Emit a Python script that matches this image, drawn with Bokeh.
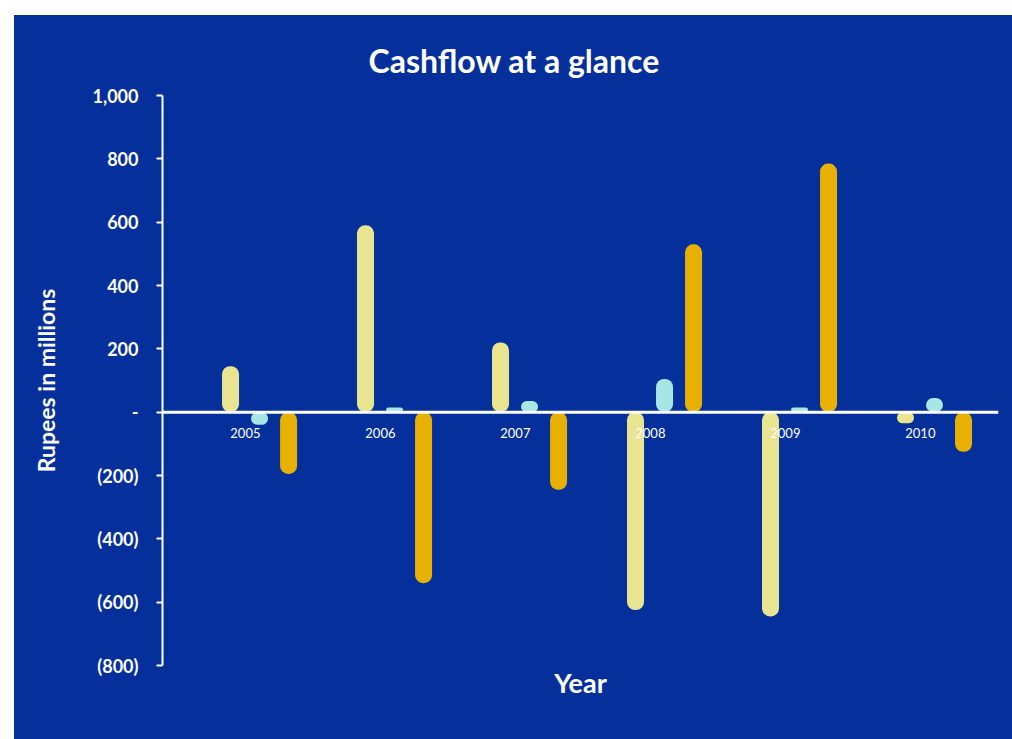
from bokeh.plotting import figure
from bokeh.models import ColumnDataSource, FixedTicker, Span, Title
from bokeh.core.properties import value
from bokeh.embed import file_html
from bokeh.resources import INLINE

# Cash flow per year, rupees in millions
years = ["2005", "2006", "2007", "2008", "2009", "2010"]
flow_a = [145, 590, 220, -625, -645, -35]     # pale yellow
flow_b = [-40, 15, 35, 105, 15, 45]           # light cyan
flow_c = [-195, -540, -245, 530, 785, -125]   # amber

y_ticks = [-800, -600, -400, -200, 0, 200, 400, 600, 800, 1000]

BG = "#05309b"
WHITE = "#ffffff"
FONT = "Lato"

series = [
    (flow_a, 0.0, "#e8e48f"),
    (flow_b, 0.215, "#a6e6e4"),
    (flow_c, 0.43, "#e8b000"),
]
bar_w = 0.126

p = figure(
    width=998, height=724,
    x_range=(-0.504, 5.689), y_range=(-800, 1000),
    output_backend="svg", toolbar_location=None,
    min_border_left=148, min_border_right=14,
    min_border_top=80, min_border_bottom=74,
)
# white strip on the top and left, blue panel for the rest
p.styles = {"background-color": BG, "position": "absolute",
            "left": "14px", "top": "15px"}
p.border_fill_color = None
p.background_fill_color = None
p.outline_line_color = None
p.grid.visible = False

title = Title(text="Cashflow at a glance", align="left", offset=206,
              text_color=WHITE, text_font=FONT, text_font_size="32px",
              text_font_style="bold", standoff=32)
p.add_layout(title, "above")

for vals, off, color in series:
    src = ColumnDataSource(dict(
        x=[i + off for i in range(len(years))],
        top=[max(v, 0) for v in vals],
        bottom=[min(v, 0) for v in vals],
    ))
    p.vbar(x="x", top="top", bottom="bottom", width=bar_w, source=src,
           fill_color=color, line_color=None, border_radius=8)

# zero line
p.add_layout(Span(location=0, dimension="width", line_color=WHITE, line_width=3))

# year labels sitting under the zero line
lab_src = ColumnDataSource(dict(x=[i + 0.11 for i in range(len(years))],
                                y=[0] * len(years), t=years))
p.text(x="x", y="y", text="t", source=lab_src, text_color=WHITE,
       text_font=value(FONT), text_font_size="13px", text_align="center",
       text_baseline="middle", y_offset=21)

# y axis, accounting style labels
def fmt(v):
    if v == 0:
        return "-"
    s = f"{abs(v):,}"
    return f"({s})" if v < 0 else s

ya = p.yaxis[0]
ya.ticker = FixedTicker(ticks=y_ticks)
ya.major_label_overrides = {v: fmt(v) for v in y_ticks}
ya.axis_line_color = WHITE
ya.axis_line_width = 2
ya.major_tick_line_color = WHITE
ya.major_tick_line_width = 2
ya.major_tick_out = 6
ya.major_tick_in = 0
ya.minor_tick_line_color = None
ya.major_label_text_color = WHITE
ya.major_label_text_font = FONT
ya.major_label_text_font_size = "18px"
ya.major_label_text_font_style = "bold"
ya.major_label_standoff = 18
ya.axis_label = "Rupees in millions"
ya.axis_label_text_color = WHITE
ya.axis_label_text_font = FONT
ya.axis_label_text_font_size = "23px"
ya.axis_label_text_font_style = "bold"
ya.axis_label_standoff = 30

xa = p.xaxis[0]
xa.ticker = FixedTicker(ticks=[])
xa.axis_line_color = None
xa.major_tick_line_color = None
xa.minor_tick_line_color = None
xa.major_label_text_font_size = "0px"
xa.axis_label = "Year"
xa.axis_label_text_color = WHITE
xa.axis_label_text_font = FONT
xa.axis_label_text_font_size = "27px"
xa.axis_label_text_font_style = "bold"
xa.axis_label_standoff = 0

open("out.html", "w").write(file_html(p, INLINE))
